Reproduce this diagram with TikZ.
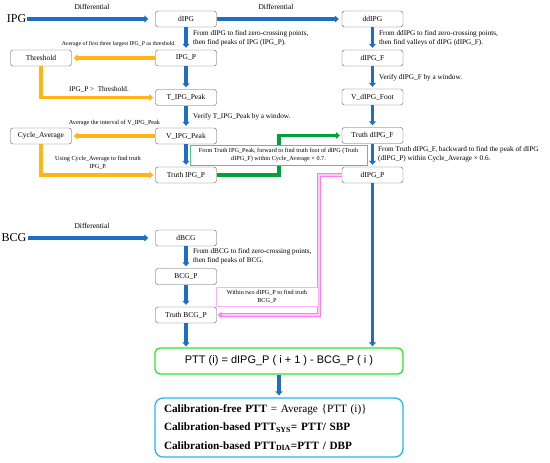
\documentclass[tikz,border=0pt]{standalone}
\usepackage{fontspec}
\setmainfont{Liberation Serif}
\newfontfamily\arialfont{Liberation Sans}
\usetikzlibrary{arrows.meta, positioning}

\definecolor{flowblue}{RGB}{30,110,200}
\definecolor{flowgold}{RGB}{255,182,20}
\definecolor{flowgreen}{RGB}{0,160,60}
\definecolor{notegreen}{RGB}{80,200,140}
\definecolor{flowpink}{RGB}{255,125,240}
\definecolor{pttgreen}{RGB}{40,230,40}
\definecolor{calblue}{RGB}{40,180,240}

\begin{document}
\begin{tikzpicture}[x=1pt, y=-1pt,
    box/.style={draw=gray!70!black, fill=white, rounded corners=2.5pt, minimum width=61pt, minimum height=16pt, inner sep=1pt, font=\fontsize{7.5}{8.5}\selectfont},
    note/.style={align=left, anchor=west, inner sep=0pt, font=\fontsize{7.2}{8.8}\selectfont},
    small/.style={align=center, inner sep=0pt, font=\fontsize{6.2}{7.8}\selectfont},
    barr/.style={draw=flowblue, line width=3.2pt, -{Triangle[length=4pt, width=7pt]}},
    oarr/.style={draw=flowgold, line width=3.2pt, -{Triangle[length=4pt, width=7pt]}},
    garr/.style={draw=flowgreen, line width=3.2pt, -{Triangle[length=4pt, width=7pt]}},
    parr/.style={draw=flowpink, double=flowpink!40, double distance=2pt, line width=1pt, -{Triangle[length=4pt, width=6.5pt]}}
]
\useasboundingbox (0,0) rectangle (550,463);

% Signals
\node[font=\fontsize{12}{14}\selectfont, inner sep=1pt] (ipg) at (16.5,19) {IPG};
\node[font=\fontsize{12}{14}\selectfont, inner sep=1pt] (bcg) at (14,238) {BCG};

% IPG branch
\node[box] (dipg) at (186,19) {dIPG};
\node[box] (ipgp) at (186,58) {IPG\_P};
\node[box] (tpeak) at (186,97.5) {T\_IPG\_Peak};
\node[box] (vpeak) at (186,136) {V\_IPG\_Peak};
\node[box] (tipgp) at (186,175) {Truth IPG\_P};
\node[box] (thr) at (41,58) {Threshold};
\node[box] (cyc) at (41,136) {Cycle\_Average};

% dIPG branch
\node[box] (ddipg) at (372.5,19) {ddIPG};
\node[box] (dipgf) at (372.5,58) {dIPG\_F};
\node[box] (vfoot) at (372.5,97) {V\_dIPG\_Foot};
\node[box] (tdipgf) at (372.5,135.5) {Truth dIPG\_F};
\node[box] (dipgp) at (372.5,175) {dIPG\_P};

% BCG branch
\node[box] (dbcg) at (186,238) {dBCG};
\node[box] (bcgp) at (186,276.5) {BCG\_P};
\node[box] (tbcgp) at (186,315) {Truth BCG\_P};

% Results
\node[draw=pttgreen, line width=1.3pt, rounded corners=5pt, minimum width=248pt, minimum height=26pt, font=\arialfont\fontsize{11}{13}\selectfont] (ptt) at (279,361)
    {PTT (i) = dIPG\_P ( i + 1 ) - BCG\_P ( i )};
\node[draw=calblue, line width=1.3pt, rounded corners=8pt, minimum width=248pt, minimum height=59pt, text width=230pt, align=left, font=\fontsize{11.2}{18.5}\selectfont] (cal) at (279,427.5)
    {\textbf{Calibration-free PTT} = Average \{PTT (i)\}\\
     \textbf{Calibration-based PTT\textsubscript{SYS}= PTT/ SBP}\\
     \textbf{Calibration-based PTT\textsubscript{DIA}=PTT / DBP}};

% Differential arrows
\draw[barr, shorten >=7pt] (ipg) -- (dipg);
\draw[barr, shorten >=3pt] (dipg) -- (ddipg);
\draw[barr, shorten >=7pt] (bcg) -- (dbcg);
\node[font=\fontsize{7.5}{9}\selectfont] at (92,7) {Differential};
\node[font=\fontsize{7.5}{9}\selectfont] at (276,7) {Differential};
\node[font=\fontsize{7.5}{9}\selectfont] at (92,226) {Differential};

% Vertical flow
\draw[barr, shorten >=2pt] (dipg) -- (ipgp);
\draw[barr, shorten >=2pt] (ipgp) -- (tpeak);
\draw[barr, shorten >=2pt] (tpeak) -- (vpeak);
\draw[barr, shorten >=2pt] (vpeak) -- (tipgp);
\draw[barr, shorten >=2pt] (ddipg) -- (dipgf);
\draw[barr, shorten >=2pt] (dipgf) -- (vfoot);
\draw[barr, shorten >=2pt] (vfoot) -- (tdipgf);
\draw[barr, shorten >=2pt] (tdipgf) -- (dipgp);
\draw[barr, shorten >=1pt] (dipgp) -- (dipgp |- ptt.north);
\draw[barr, shorten >=2pt] (dbcg) -- (bcgp);
\draw[barr, shorten >=2pt] (bcgp) -- (tbcgp);
\draw[barr, shorten >=1pt] (tbcgp) -- (tbcgp |- ptt.north);
\draw[barr, shorten >=2pt] (ptt) -- (cal);

% Threshold and cycle loops
\draw[oarr, shorten >=2pt] (ipgp) -- (thr);
\draw[oarr, shorten >=2pt] (thr.south) |- (tpeak.west);
\draw[oarr, shorten >=2pt] (vpeak) -- (cyc);
\draw[oarr, shorten >=2pt] (cyc.south) |- (tipgp.west);

% Cross links
\coordinate (gbend) at (279,175);
\draw[garr, shorten >=2pt] (tipgp.east) -- (gbend) |- (tdipgf.west);
\coordinate (pbend) at (319,250);
\draw[parr, shorten >=1pt] (dipgp.west) -| (pbend) |- (tbcgp.east);

% Notes
\node[note] at (193,38.5) {From dIPG to find zero-crossing points,\\then find peaks of IPG (IPG\_P).};
\node[note] at (379,38.5) {From ddIPG to find zero-crossing points,\\then find valleys of dIPG (dIPG\_F).};
\node[note] at (379,78) {Verify dIPG\_F by a window.};
\node[note] at (193,117) {Verify T\_IPG\_Peak by a window.};
\node[note] at (378,154.5) {From Truth dIPG\_F, backward to find the peak of dIPG\\(dIPG\_P) within Cycle\_Average × 0.6.};
\node[note] at (193,256.5) {From dBCG to find zero-crossing points,\\then find peaks of BCG.};
\node[small, anchor=east, font=\fontsize{5.8}{7}\selectfont] at (176,44) {Average of first three largest IPG\_P as threshold.};
\node[small] at (114.5,123) {Average the interval of V\_IPG\_Peak};
\node[note, anchor=center] at (99,89) {IPG\_P >\ \ Threshold.};
\node[small] at (98,163) {Using Cycle\_Average to find truth\\IPG\_P.};
\node[small, draw=notegreen, fill=white, line width=0.8pt, minimum width=177pt, minimum height=20pt] (gnote) at (278.5,155)
    {From Truth IPG\_Peak, forward to find truth foot of dIPG (Truth\\dIPG\_F) within Cycle\_Average × 0.7.};
\node[small, draw=flowpink!60, fill=white, line width=0.8pt, minimum width=102pt, minimum height=19pt] (pnote) at (267,296.5)
    {Within two dIPG\_P to find truth\\BCG\_P};

\end{tikzpicture}
\end{document}
